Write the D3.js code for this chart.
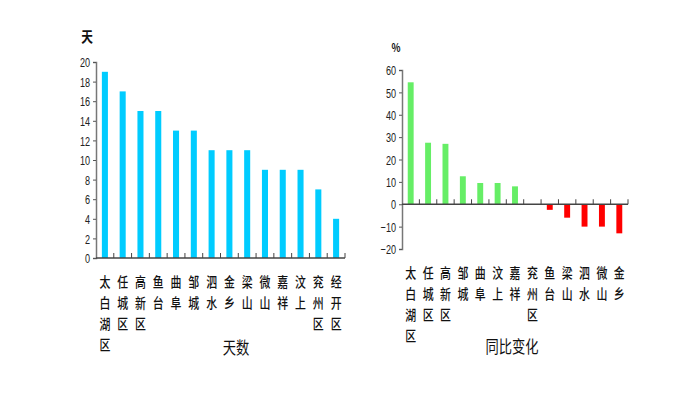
<!DOCTYPE html>
<html><head><meta charset="utf-8">
<script src="https://cdn.jsdelivr.net/npm/d3@7"></script>
<style>
body{margin:0;background:#fff;}
svg{display:block;}
.num{font-family:"Liberation Sans","Arial",sans-serif;font-size:13px;fill:#222;}
.cjk{font-family:"Noto Sans CJK SC",sans-serif;fill:#111;}
</style></head>
<body>
<svg id="c" width="677" height="393"></svg>
<script>
// Left chart: days
const daysCats = ["太白湖区","任城区","高新区","鱼台","曲阜","邹城","泗水","金乡","梁山","微山","嘉祥","汶上","兖州区","经开区"];
const daysVals = [19,17,15,15,13,13,11,11,11,9,9,9,7,4];
const daysTicks = [0,2,4,6,8,10,12,14,16,18,20];
// Right chart: YoY change (%)
const chgCats = ["太白湖区","任城区","高新区","邹城","曲阜","汶上","嘉祥","兖州区","鱼台","梁山","泗水","微山","金乡"];
const chgVals = [54.5,27.5,27,12.5,9.5,9.5,8,0,-2.5,-6,-10,-10,-13];
const chgTicks = [-20,-10,0,10,20,30,40,50,60];

const svg = d3.select("#c");
const SX = 0.78;

function narrowText(g, x, y, text, size, weight){
  return g.append("g").attr("transform",`translate(${x},${y}) scale(${SX},1)`)
    .append("text").attr("class","cjk").attr("text-anchor","middle")
    .style("font-size", size+"px").style("font-weight",weight||500).text(text);
}

function chart(opt){
  const g = svg.append("g");
  const x = d3.scaleBand().domain(opt.cats).range([opt.x0,opt.x1]).padding(0);
  const y = d3.scaleLinear().domain(opt.ydom).range([opt.yb,opt.yt]);
  const bw = x.bandwidth()*0.34;
  // bars
  g.selectAll("rect.bar").data(opt.vals).enter().append("rect")
    .attr("x",(d,i)=>x(opt.cats[i])+x.bandwidth()/2-bw/2)
    .attr("y",d=>y(Math.max(0,d)))
    .attr("width",bw)
    .attr("height",d=>Math.abs(y(d)-y(0)))
    .attr("fill",d=>opt.color(d));
  // y axis
  const ya = d3.axisLeft(y).tickValues(opt.ticks).tickSize(3).tickFormat(d3.format("d"));
  const yg = g.append("g").attr("transform",`translate(${opt.x0},0)`).call(ya);
  yg.select(".domain").attr("stroke","#777").attr("stroke-width",1.5);
  yg.selectAll(".tick line").attr("stroke","#555");
  yg.selectAll(".tick text").attr("class","num").attr("x",-6/0.7).attr("dy","0.36em")
    .attr("transform","scale(0.7,1)");
  // x baseline
  const x0y = y(0);
  g.append("line").attr("x1",opt.x0).attr("x2",opt.x1).attr("y1",x0y).attr("y2",x0y)
    .attr("stroke","#444").attr("stroke-width",1.5);
  const bounds = opt.cats.map(c=>x(c)+x.bandwidth());
  g.selectAll("line.xt").data(bounds).enter().append("line")
    .attr("x1",d=>d).attr("x2",d=>d).attr("y1",x0y).attr("y2",x0y-5)
    .attr("stroke","#444").attr("stroke-width",1);
  // category labels (vertical, one char per line)
  opt.cats.forEach(c=>{
    Array.from(c).forEach((ch,i)=>{
      narrowText(g, x(c)+x.bandwidth()/2, opt.labY+i*21, ch, 14, 500);
    });
  });
  // unit
  narrowText(g, opt.unitX, opt.unitY, opt.unit, opt.unitSize, "bold");
  // title
  narrowText(g, opt.titleX, opt.titleY, opt.title, 17, 400);
}

chart({cats:daysCats, vals:daysVals, ticks:daysTicks, ydom:[0,20],
  x0:96, x1:345, yb:258, yt:62, color:()=>"#00ccff",
  labY:287, unit:"天", unitX:87, unitY:42, unitSize:15,
  title:"天数", titleX:236, titleY:354});

chart({cats:chgCats, vals:chgVals, ticks:chgTicks, ydom:[-20,60],
  x0:402, x1:628, yb:249, yt:70, color:d=>d>=0?"#66ee66":"#ff0000",
  labY:278, unit:"%", unitX:396, unitY:52, unitSize:12,
  title:"同比变化", titleX:512, titleY:353});
</script>
</body></html>
